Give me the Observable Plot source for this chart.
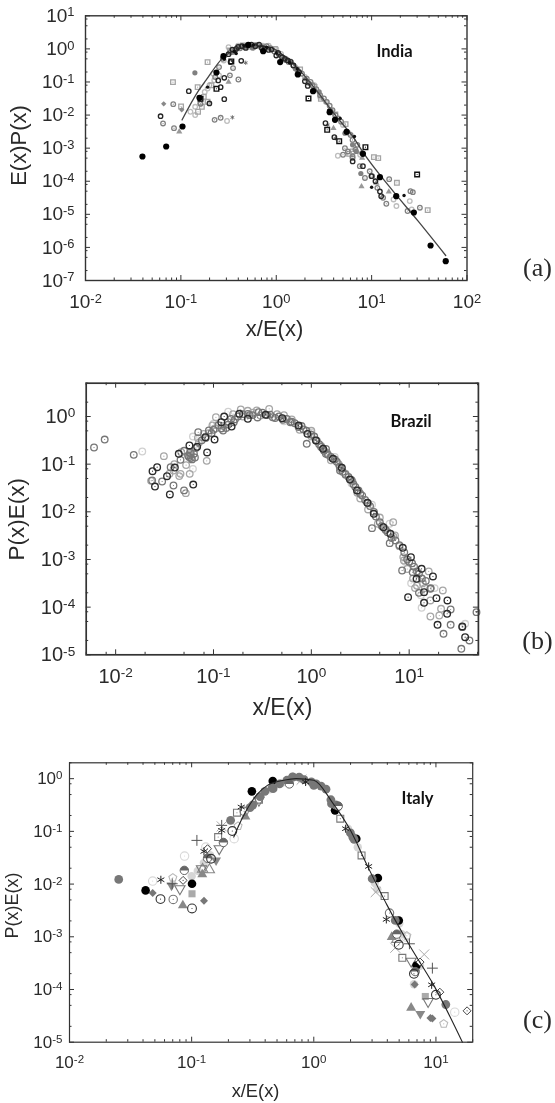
<!DOCTYPE html>
<html>
<head>
<meta charset="utf-8">
<script src="https://cdn.jsdelivr.net/npm/d3@7"></script>
<script src="https://cdn.jsdelivr.net/npm/@observablehq/plot@0.6"></script>
<style>
html,body{margin:0;padding:0;background:#fff;width:555px;height:1103px;overflow:hidden}
#page{position:relative;width:555px;height:1103px}
#page svg{position:absolute;left:0;display:block}
</style>
</head>
<body>
<div id="page"></div>
<script>
// All points are [log10(x/E(x)), log10(y)].
const indiaCurve = [[-.987,-2.144],[-.813,-1.257],[-.738,-.955],[-.553,-.249],[-.386,.002],[-.219,.103],[-.07,.053],[.078,-.199],[.263,-.703],[.449,-1.358],[.635,-2.063],[.82,-2.718],[.909,-3.121],[1.191,-4.179],[1.488,-5.207],[1.777,-6.244]];
const indiaBlack = [[-1.403,-3.252],[-1.154,-2.95],[-.983,-2.345],[-.805,-1.479],[-.627,-.713],[-.553,-.219],[-.293,.123],[-.137,-.068],[.041,-.4],[.226,-.773],[.386,-1.277],[.56,-1.912],[.616,-2.144],[.738,-2.506],[.909,-3.171],[1.087,-3.877],[1.258,-4.451],[1.443,-4.945],[1.618,-5.942],[1.777,-6.416]];
const indiaDarkRing = [[-1.213,-2.033],[-.917,-1.277],[-.701,-1.65],[-.545,-1.519],[-.583,-1.156],[-.545,-.874],[-.608,-.955],[-.367,-.36],[-.479,-.4],[.152,-.39],[.516,-2.244],[.609,-2.667],[.909,-3.544],[.801,-3.4],[1.087,-4.31],[.998,-3.846],[-.5,-.16],[-.42,0],[-.36,.08],[-.3,.1],[-.22,.08],[-.18,.13],[-.12,0],[-.05,-.02],[.02,-.12],[.06,-.25],[.12,-.35],[-.46,-.02],[-.4,.06],[-.32,.03],[-.26,.13],[-.15,.02],[-.08,-.03],[.0,-.2],[.09,-.3],[.18,-.5],[.24,-.7],[.3,-.98],[.33,-1.12],[1.04,-4.0],[1.1,-4.45]];
const indiaBoxed = [[-.627,-1.207],[-.471,-.38],[.338,-1.499],[.534,-2.446],[.66,-2.788],[.935,-2.97],[1.477,-3.796],[-.794,-1.51]];
const indiaLightSquare = [[-1.083,-1.005],[-.72,-.4],[-.486,-.05],[-.998,-1.74],[-.824,-1.156],[1.069,-3.302],[1.024,-3.27],[1.265,-4.048],[1.588,-4.874],[.727,-2.275],[.468,-1.509],[.764,-3.17],[-.015,0],[-.68,-1.1],[-.76,-1.45],[.25,-.62],[.62,-1.98],[-.78,-1.75],[-.82,-1.9],[-.72,-1.6],[-.35,.1],[-.2,.12],[.4,-1.15],[.8,-3.1]];
const indiaGrayRing = [[-1.187,-2.254],[-1.08,-1.67],[-1.072,-2.395],[-.646,-2.144],[-.583,-2.083],[-.794,-1.66],[-.486,-.8],[-.397,-.925],[-.453,-.58],[.876,-3.544],[1.006,-3.846],[1.184,-3.937],[1.407,-4.3],[1.432,-4.33],[1.506,-4.8],[1.154,-4.68],[.8,-3.25],[1.377,-4.9],[-.48,-.1],[-.44,-.05],[-.38,.02],[-.33,.06],[-.28,.12],[-.24,.04],[-.2,.1],[-.16,.05],[-.1,.08],[-.06,.02],[-.02,-.08],[.03,-.18],[.08,-.28],[.13,-.4],[.18,-.5],[.22,-.62],[.27,-.75],[.32,-.9],[.36,-1],[.42,-1.22],[.5,-1.5],[.56,-1.72],[.62,-2],[.68,-2.2],[.74,-2.5],[.78,-2.6],[.8,-2.75],[.85,-2.9],[.9,-3.15],[.7,-3.2],[.75,-3.1],[.8,-3.3],[-.6,-.55],[-.64,-.85],[-.56,-.3],[.38,-1.1],[.46,-1.4],[.53,-1.6],[.59,-1.85],[.65,-2.1],[.83,-3.05],[.72,-3.0],[.93,-3.9],[.98,-3.7],[1.12,-4.5],[1.06,-4.2]];
const indiaLightRing = [[-.516,-2.18],[.646,-3.23],[-.55,-.35],[-.6,-.8],[-.65,-.95],[-.7,-1.1],[-.75,-1.3],[-.8,-1.5],[-.85,-1.75],[-.9,-1.9],[-.85,-2],[-.8,-1.65],[-.72,-1.2],[-.66,-.75],[-.5,.05],[-.4,.1],[-.3,.05],[-.22,.12],[-.14,.1],[-.08,.1],[0,0],[.05,-.15],[.1,-.3],[.15,-.38],[.2,-.55],[.3,-.85],[.4,-1.1],[.46,-1.45],[.52,-1.6],[.58,-1.9],[.7,-2.3],[.76,-2.55],[.88,-3.2],[1.23,-4.55],[1.26,-4.75],[1.4,-4.6],[1.42,-4.85]];
const indiaGrayFill = [[-.853,-.723],[.887,-3.766],[.45,-1.3],[-.25,.03],[-.45,-.1],[.1,-.35],[.72,-2.55],[.8,-2.9],[.84,-3.1],[-.35,.05],[-.15,.08],[.2,-.6],[.35,-1.05],[.57,-1.85]];
const indiaDiamond = [[-1.18,-1.66],[-.991,-1.84],[.3,-.9],[.6,-1.95]];
const indiaSmallBlack = [[-.72,-1.156],[.82,-2.647],[-.545,-.31],[1.34,-4.43],[1.0,-4.18],[-.42,-.14],[.67,-2.1],[.55,-1.85],[-.44,-.08],[-.34,.1],[-.24,.12],[-.1,.05],[.0,-.12],[.14,-.42],[.22,-.6]];
const indiaStar = [[-.46,-2.07],[-.32,-.42],[.54,-2.3],[.62,-2.7]];
const indiaTriangle = [[-1.017,-2.5],[.894,-4.16],[1.18,-4.32],[-.5,-1.0],[.9,-3.3],[.6,-2.4],[1.05,-4.05]];

const brazilDark = [[-1.623,-1.147],[-1.576,-1.063],[-1.598,-1.469],[-1.446,-1.636],[-1.475,-1.252],[-1.395,-1.07],[-1.207,-1.427],[-1.065,-.755],[-1.355,-.783],[-1.246,-.608],[-1.167,-.636],[-1.083,-.434],[-.989,-.483],[-.92,-.119],[-.891,0],[-.815,-.21],[-.736,.056],[-.649,-.049],[-.467,.035],[-.297,-.035],[-.13,-.189],[-.04,-.364],[.047,-.503],[.12,-.678],[.221,-.888],[.312,-1.077],[.395,-1.322],[.467,-1.552],[.572,-1.811],[.638,-2.042],[.736,-2.322],[.808,-2.462],[.935,-2.755],[1.018,-2.951],[1.076,-3.406],[1.127,-3.196],[1.152,-3.685],[1.152,-3.909],[1.243,-3.357],[1.279,-3.811],[.989,-3.79],[1.29,-4.371],[1.391,-3.86],[1.388,-4.14],[1.543,-4.406],[1.572,-4.63]];
const brazilMid = [[-2.221,-.65],[-2.112,-.483],[-1.815,-.804],[-1.627,-1.343],[-1.525,-1.364],[-1.438,-1.063],[-1.409,-1.448],[-1.337,-.909],[-1.301,-1.55],[-1.156,-.329],[-1.047,-.294],[-.902,-.294],[-.793,-.119],[-.649,.056],[-.54,.091],[-.395,-.014],[-.214,-.119],[-.047,-.573],[.149,-.783],[.293,-1.133],[.482,-1.552],[.62,-2.343],[.801,-2.657],[.928,-3.231],[1.036,-3.266],[1.217,-3.615],[1.424,-4.049],[1.688,-4.105],[1.543,-4.42],[1.424,-4.371],[1.351,-4.559],[1.533,-4.874],[1.616,-4.699],[-1.3,-.72],[-1.25,-.85],[-1.22,-.9],[-1.18,-.66],[-1.12,-.5],[-1.08,-.45],[-1.0,-.28],[-.95,-.18],[-.87,-.24],[-.82,-.05],[-.75,0],[-.7,.05],[-.6,.03],[-.5,.08],[-.42,.04],[-.33,0],[-.25,-.05],[-.17,-.14],[-.1,-.2],[-.05,-.3],[.03,-.42],[.08,-.58],[.13,-.72],[.17,-.8],[.26,-.95],[.32,-1.16],[.38,-1.27],[.45,-1.48],[.52,-1.66],[.6,-1.88],[.66,-2.1],[.72,-2.3],[.78,-2.43],[.86,-2.6],[.95,-2.85],[1,-3.05],[1.05,-3.15],[1.1,-3.3],[1.17,-3.45],[1.22,-3.6],[1.1,-3.7],[-1.26,-.82],[-1.23,-.87],[-1.2,-.78],[-1.24,-.76],[-1.19,-.86],[-1.02,-.35],[-.92,-.25],[-.85,-.17],[-.78,-.06],[-.63,.03],[-.55,-.02],[-.45,.03],[-.37,-.03],[-.29,-.07],[-.2,-.11],[-.13,-.22],[-.08,-.27],[.0,-.38],[.05,-.5],[.1,-.64],[.15,-.68],[.2,-.85],[.24,-.9],[.29,-1.05],[.35,-1.22],[.41,-1.33],[.43,-1.42],[.5,-1.62],[.55,-1.75],[.58,-1.82],[.64,-2.0],[.7,-2.22],[.76,-2.38],[.82,-2.55],[.9,-2.7],[.98,-3.0],[1.03,-3.08],[1.08,-3.25],[1.13,-3.4]];
const brazilLight = [[-1.507,-.832],[-1.638,-1.35],[-1.409,-1.133],[-1.337,-1.203],[-1.239,-.818],[-1.243,-1.203],[-1.069,-.93],[-1.283,-1.608],[-1.228,-.783],[-1.011,-.189],[-1.101,-.364],[-.721,.147],[-.558,.126],[-.431,.161],[-.975,-.014],[-.9,-.2],[-.8,.05],[.837,-2.217],[.855,-2.497],[.946,-3.021],[1.217,-3.86],[1.344,-3.65],[1.326,-4.035],[1.217,-4.196],[1.308,-4.175],[-1.4,-1.0],[-1.33,-.75],[-1.15,-.55],[-1.05,-.35],[-.85,-.12],[-.65,.12],[-.6,.08],[-.35,.05],[-.2,-.06],[-.12,-.28],[0,-.42],[.06,-.52],[.1,-.62],[.2,-.92],[.28,-1.0],[.35,-1.2],[.42,-1.36],[.5,-1.72],[.58,-1.95],[.68,-2.25],[.75,-2.35],[.84,-2.52],[.9,-2.72],[.98,-3.2],[1.04,-3.4],[1.08,-3.55],[1.14,-3.5],[1.2,-3.25],[-1.35,-1.25],[-1.45,-1.2],[-1.28,-1.02],[-1.16,-.45],[-.98,-.25],[-.7,.0],[-.52,.02],[-.28,.03],[.0,-.3],[.16,-.76],[.3,-1.1],[.47,-1.6],[.7,-2.12],[.94,-2.95],[1.06,-3.6],[1.16,-3.6]];
const brazilPale = [[-1.728,-.734],[-1.21,-.42],[-1.21,-1.098],[1.127,-4.014],[1.572,-4.35],[-1.0,-.15],[-.85,.1],[-.28,-.1],[.0,-.34],[.24,-.85],[.41,-1.4],[.62,-1.85],[.8,-2.25],[.96,-3.05],[1.02,-3.5],[1.12,-3.75],[1.26,-3.6]];

const italyCurve = [[-.655,-1.108],[-.594,-.791],[-.518,-.47],[-.464,-.3],[-.38,-.127],[-.246,-.03],[-.145,0],[0,-.03],[.15,-.444],[.3,-.98],[.437,-1.645],[.601,-2.404],[.792,-3.195],[.983,-3.922],[1.217,-5]];
const italyBlack = [[-1.377,-2.12],[-.997,-1.994],[-.507,-.241],[-.336,-.044],[.525,-1.886],[.696,-2.69],[.841,-3.544],[.174,-.601],[.348,-1.139]];
const italyGrayDisc = [[-1.597,-1.911],[-.174,.032],[-.522,-.551],[-.333,-.19],[.478,-1.899],[.667,-2.69],[.145,-.475],[.319,-1.108],[0,-.127],[-.681,-.791],[1.081,-4.285],[-.5,-.5],[-.44,-.34],[-.4,-.24],[-.34,-.17],[-.28,-.1],[-.22,-.03],[-.17,.03],[-.12,.03],[-.08,-.02],[-.02,-.06],[.02,-.1],[.06,-.14],[.1,-.2],[.14,-.4],[.18,-.5],[.3,-1.03],[.33,-1.15]];
const italyPaleDisc = [[-.36,-.2],[-.26,-.08],[-.2,-.02],[-.1,0],[0,-.08],[.2,-.55],[.28,-.95],[.36,-1.3],[.5,-1.98],[.52,-2.1],[.7,-2.75],[.72,-2.95],[.82,-3.9],[.87,-3.55],[-.95,-1.75],[-1,-1.85],[-.9,-1.6],[-.85,-1.45]];
const italyHalf = [[-1.06,-1.74],[-.74,-1.21],[-.87,-1.51],[.68,-2.95],[.83,-3.66],[-.2,-.1],[.2,-.52]];
const italyOpenRing = [[-1.255,-2.285],[-.997,-2.462],[-.841,-1.519],[-.667,-.994],[.696,-3.152],[.82,-3.703],[1,-4.101]];
const italyGrayRing = [[-1.151,-2.291],[-.57,-.62],[.62,-2.55]];
const italyPaleRing = [[-1.319,-1.943],[-1.058,-1.468],[-.884,-1.297],[-.652,-1.139],[1.154,-4.43],[.754,-3.006]];
const italyPentagon = [[-1.154,-1.88],[1.064,-4.652],[.762,-2.981],[-.62,-.9]];
const italyOpenDiamond = [[-1.07,-1.93],[-.87,-1.329],[.87,-3.48],[1.032,-4.051],[1.255,-4.405]];
const italyFillDiamond = [[-.899,-2.316],[.826,-3.905],[.971,-4.551],[-1.319,-2.171],[.955,-4.54]];
const italyTriUp = [[-1.072,-2.405],[-.913,-1.816],[.638,-3.006],[.797,-4.348],[-.56,-.72]];
const italyTriDown = [[-1.165,-2.025],[.872,-4.462],[-.8,-1.55]];
const italyOpenTriDown = [[-1.096,-2.089],[-.774,-1.329],[-.919,-1.709],[-.449,-.411],[.797,-3.462],[.936,-4.228]];
const italyOpenTriUp = [[-.855,-1.728],[-.91,-1.72],[.68,-3.05]];
const italyOpenSquare = [[-.783,-1.108],[-.629,-.646],[-.449,-.399],[.217,-.759],[.391,-1.456],[.58,-2.228],[.725,-3.399]];
const italyFillSquare = [[-.997,-2.184],[.913,-4.133]];
const italyAsterisk = [[-1.252,-1.918],[-.899,-1.38],[-.754,-.981],[-.594,-.538],[-.067,-.063],[.261,-.949],[.449,-1.665],[.594,-2.671],[.965,-3.911]];
const italyPlus = [[-.957,-1.171],[-.754,-.886],[-1.159,-1.994],[.783,-3.133],[.971,-3.595]];
const italyTimes = [[.904,-3.335],[-.754,-.905],[.667,-3.209],[.507,-2.152],[-.1,-.02]];

const pentagon = {draw(c, size){
  const r = Math.sqrt(size / Math.PI) * 1.1;
  for (let i = 0; i < 5; ++i) {
    const a = -Math.PI / 2 + i * 2 * Math.PI / 5;
    const x = r * Math.cos(a), y = r * Math.sin(a);
    if (i) c.lineTo(x, y); else c.moveTo(x, y);
  }
  c.closePath();
}};
const halfDisc = {draw(c, size){
  const r = Math.sqrt(size / Math.PI);
  c.moveTo(-r, 0);
  c.arc(0, 0, r, Math.PI, 2 * Math.PI);
  c.closePath();
}};

function layer(points, {symbol = "circle", r = 2.5, stroke = "none", fill = "none", sw = 1, rotate = 0, center = false} = {}) {
  const opt = {x: d => 10 ** d[0], y: d => 10 ** d[1]};
  const marks = [Plot.dot(points, {...opt, symbol, r, stroke, fill, strokeWidth: sw, rotate})];
  if (center) marks.push(Plot.dot(points, {...opt, r: 0.55, fill: center === true ? stroke : center}));
  return marks;
}
function decades(lo, hi, mults) {
  const out = [];
  for (let e = lo; e <= hi; ++e) for (const m of mults) out.push(m * 10 ** e);
  return out;
}
function panel({top, height, ml, mr, mt, mb, xDomain, yDomain, xMajor, yMajor, xMinor, yMinor, tickFont, xPad, yPad, layers, labels, frameW = 1.4}) {
  const innerH = height - mt - mb, innerW = 555 - ml - mr;
  const inX = v => v >= xDomain[0] && v <= xDomain[1], inY = v => v >= yDomain[0] && v <= yDomain[1];
  const ink = "#333";
  const exp = d => "10^" + Math.round(Math.log10(d));
  const at = (t, px, py, o = {}) => Plot.text([t], {text: d => d, frameAnchor: "top-left", dx: px - ml, dy: py - top - mt, textAnchor: "middle", lineAnchor: "middle", fill: "#2a2a2a", ...o});
  const ticks = [];
  for (const [vals, len] of [[xMajor.filter(inX), 5], [xMinor.filter(inX), 2.5]]) {
    ticks.push(Plot.ruleX(vals, {x: d => d, insetTop: innerH - len, stroke: ink, strokeWidth: 1}));
    ticks.push(Plot.ruleX(vals, {x: d => d, insetBottom: innerH - len, stroke: ink, strokeWidth: 1}));
  }
  for (const [vals, len] of [[yMajor.filter(inY), 5], [yMinor.filter(inY), 2.5]]) {
    ticks.push(Plot.ruleY(vals, {y: d => d, insetRight: innerW - len, stroke: ink, strokeWidth: 1}));
    ticks.push(Plot.ruleY(vals, {y: d => d, insetLeft: innerW - len, stroke: ink, strokeWidth: 1}));
  }
  const chart = Plot.plot({
    width: 555, height, marginLeft: ml, marginRight: mr, marginTop: mt, marginBottom: mb,
    style: {background: "transparent", fontFamily: "'Liberation Sans', Arial, sans-serif", overflow: "visible", filter: "blur(0.55px)", top: top + "px"},
    x: {type: "log", domain: xDomain, axis: null},
    y: {type: "log", domain: yDomain, axis: null},
    marks: [
      ...layers,
      ...ticks,
      Plot.frame({stroke: ink, strokeWidth: frameW}),
      Plot.axisX({anchor: "bottom", ticks: xMajor, tickSize: 0, tickPadding: xPad, tickFormat: exp, label: null, fontSize: tickFont, color: "#2a2a2a"}),
      Plot.axisY({anchor: "left", ticks: yMajor, tickSize: 0, tickPadding: yPad, tickFormat: exp, label: null, fontSize: tickFont, color: "#2a2a2a"}),
      ...labels.map(l => at(...l))
    ]
  });
  for (const t of chart.querySelectorAll("text")) {
    const m = /^10\^(-?\d+)$/.exec(t.textContent);
    if (!m) continue;
    t.textContent = "10";
    const s = document.createElementNS("http://www.w3.org/2000/svg", "tspan");
    s.setAttribute("dy", "-0.42em");
    s.setAttribute("font-size", "0.68em");
    s.textContent = m[1];
    t.appendChild(s);
  }
  document.getElementById("page").appendChild(chart);
}

// (a) India
panel({
  top: 0, height: 340, ml: 85, mr: 88.5, mt: 15.3, mb: 60,
  xDomain: [1e-2, 1e2], yDomain: [1e-7, 1e1],
  xMajor: decades(-2, 2, [1]), yMajor: decades(-7, 1, [1]),
  xMinor: decades(-2, 1, [2, 3, 4, 5, 6, 7, 8, 9]), yMinor: decades(-7, 0, [2, 5, 8]),
  tickFont: 19, xPad: 14, yPad: 11,
  layers: [
    ...layer(indiaLightRing, {r: 2.3, stroke: "#bdbdbd", sw: 1.3}),
    ...layer(indiaLightSquare, {symbol: "square", r: 2.6, stroke: "#a4a4a4", sw: 1.3, center: true}),
    ...layer(indiaTriangle, {symbol: "triangle", r: 2.3, fill: "#999"}),
    ...layer(indiaGrayRing, {r: 2.3, stroke: "#808080", sw: 1.3, center: true}),
    ...layer(indiaDiamond, {symbol: "diamond2", r: 2.4, fill: "#888"}),
    ...layer(indiaStar, {symbol: "asterisk", r: 2, stroke: "#666", sw: 0.9}),
    ...layer(indiaGrayFill, {r: 2.6, fill: "#808080"}),
    Plot.line(indiaCurve, {x: d => 10 ** d[0], y: d => 10 ** d[1], stroke: "#444", strokeWidth: 1.3, curve: "monotone-x"}),
    ...layer(indiaDarkRing, {r: 2.2, stroke: "#262626", sw: 1.35}),
    ...layer(indiaBoxed, {symbol: "square", r: 2.6, stroke: "#111", sw: 1.4, center: true}),
    ...layer(indiaSmallBlack, {r: 1.7, fill: "#111"}),
    ...layer(indiaBlack, {r: 3.1, fill: "#000"})
  ],
  labels: [
    ["x/E(x)", 274, 328, {fontSize: 22}],
    ["E(x)P(x)", 18, 145, {fontSize: 22, rotate: -90}],
    ["India", 394, 51, {fontSize: 16.5, fontWeight: "bold", fontFamily: "Lato", fill: "#111"}],
    ["(a)", 537, 267, {fontSize: 26, fontFamily: "'Liberation Serif', serif"}]
  ]
});

// (b) Brazil
panel({
  top: 370, height: 350, ml: 85.7, mr: 77.1, mt: 12.7, mb: 65.7,
  xDomain: [5e-3, 51], yDomain: [1e-5, 5],
  xMajor: decades(-2, 1, [1]), yMajor: decades(-5, 0, [1]),
  xMinor: decades(-3, 1, [2, 5, 8]), yMinor: decades(-5, 0, [2, 5, 8]),
  tickFont: 20, xPad: 14, yPad: 11, frameW: 1.7,
  layers: [
    ...layer(brazilPale, {r: 3.3, stroke: "#d0d0d0", sw: 1.3, center: true}),
    ...layer(brazilLight, {r: 3.3, stroke: "#a6a6a6", sw: 1.3, center: true}),
    ...layer(brazilMid, {r: 3.3, stroke: "#767676", sw: 1.3, center: true}),
    ...layer(brazilDark, {r: 3.3, stroke: "#2a2a2a", sw: 1.35, center: true})
  ],
  labels: [
    ["x/E(x)", 282, 706.7, {fontSize: 23}],
    ["P(x)E(x)", 16, 518.7, {fontSize: 22.5, rotate: -90}],
    ["Brazil", 410.5, 421.7, {fontSize: 16.5, fontWeight: "bold", fontFamily: "Lato", fill: "#111"}],
    ["(b)", 537, 640, {fontSize: 26, fontFamily: "'Liberation Serif', serif"}]
  ]
});

// (c) Italy
panel({
  top: 750, height: 353, ml: 69, mr: 82.8, mt: 12.3, mb: 61.3,
  xDomain: [1e-2, 20], yDomain: [1e-5, 2],
  xMajor: decades(-2, 1, [1]), yMajor: decades(-5, 0, [1]),
  xMinor: decades(-2, 1, [2, 3, 4, 5, 6, 7, 8, 9]), yMinor: decades(-5, 0, [2, 5, 8]),
  tickFont: 17, xPad: 14, yPad: 7, frameW: 1.2,
  layers: [
    ...layer(italyPaleDisc, {r: 4.2, fill: "#d6d6d6"}),
    ...layer(italyPaleRing, {r: 4.2, stroke: "#d8d8d8", sw: 1.1, center: true}),
    ...layer(italyPentagon, {symbol: pentagon, r: 3.8, stroke: "#b8b8b8", fill: "none", sw: 1.1, center: true}),
    ...layer(italyFillSquare, {symbol: "square", r: 4, fill: "#aaa"}),
    ...layer(italyTimes, {symbol: "times", r: 4.6, stroke: "#aaa", sw: 1}),
    ...layer(italyOpenSquare, {symbol: "square2", r: 4.4, stroke: "#777", sw: 1.1, center: true}),
    ...layer(italyOpenTriUp, {symbol: "triangle", r: 3.8, stroke: "#888", sw: 1.1}),
    ...layer(italyOpenTriDown, {symbol: "triangle", r: 3.8, rotate: 180, stroke: "#777", sw: 1.1}),
    ...layer(italyTriUp, {symbol: "triangle", r: 3.7, fill: "#888"}),
    ...layer(italyTriDown, {symbol: "triangle", r: 3.7, rotate: 180, fill: "#888"}),
    ...layer(italyFillDiamond, {symbol: "diamond2", r: 3.6, fill: "#777"}),
    ...layer(italyBlack, {r: 4.3, fill: "#000"}),
    ...layer(italyGrayDisc, {r: 4.4, fill: "#777"}),
    ...layer(italyHalf, {r: 4.2, stroke: "#555", fill: "#fff", sw: 0.9}),
    ...layer(italyHalf, {symbol: halfDisc, r: 4.2, fill: "#666"}),
    ...layer(italyGrayRing, {r: 4.2, stroke: "#777", sw: 1.1, center: true}),
    ...layer(italyOpenDiamond, {symbol: "diamond2", r: 3.6, stroke: "#444", fill: "#fff", sw: 1, center: true}),
    ...layer(italyOpenRing, {r: 4.4, stroke: "#333", sw: 1.1, center: true}),
    ...layer(italyPlus, {symbol: "plus", r: 3.6, stroke: "#555", sw: 1}),
    ...layer(italyAsterisk, {symbol: "asterisk", r: 3.8, stroke: "#222", sw: 1}),
    Plot.line(italyCurve, {x: d => 10 ** d[0], y: d => 10 ** d[1], stroke: "#222", strokeWidth: 1.1, curve: "monotone-x"})
  ],
  labels: [
    ["x/E(x)", 255, 1090.7, {fontSize: 18.3}],
    ["P(x)E(x)", 11.3, 905, {fontSize: 18, rotate: -90}],
    ["Italy", 417, 798, {fontSize: 16.5, fontWeight: "bold", fontFamily: "Lato", fill: "#111"}],
    ["(c)", 537, 1019, {fontSize: 26, fontFamily: "'Liberation Serif', serif"}]
  ]
});
</script>
</body>
</html>
